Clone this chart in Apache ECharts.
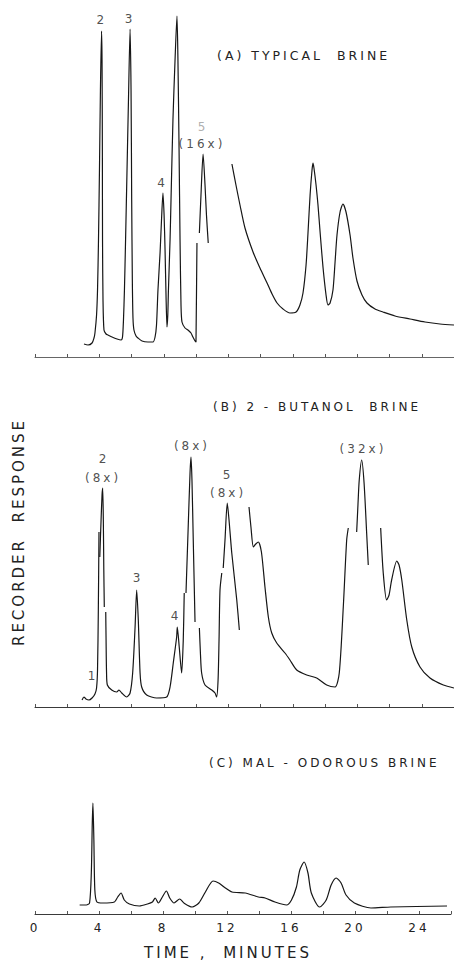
<!DOCTYPE html>
<html>
<head>
<meta charset="utf-8">
<script src="https://cdn.jsdelivr.net/npm/echarts@6/dist/echarts.min.js"></script>
<style>
  html, body { margin: 0; padding: 0; background: #fff; }
  #chart { width: 454px; height: 963px; }
  /* wide tracking of the lettering */
  #chart text { letter-spacing: 3px; white-space: pre; }
</style>
</head>
<body>
<div id="chart"></div>
<script>
// ---- time axis (minutes) ----
const timeMin = 0;
const timeMax = 26;
const tickStep = 2;
const tickLabels = [0, 4, 8, 12, 16, 20, 24];

// ---- (A) typical brine: [time (min), recorder response] ----
// peaks 2, 3, 4 and the large unnumbered peak at 1x
const typicalMain = [
  [3.04,13],[3.29,12],[3.54,14],[3.66,19],[3.72,24],[3.82,42],[3.88,67],[3.94,117],[4.00,187],
  [4.06,267],[4.13,326],[4.16,297],[4.18,207],[4.19,117],[4.22,57],[4.28,27],[4.41,23],[4.53,22],
  [4.78,20],[5.09,18],[5.34,17],[5.43,20],[5.49,37],[5.55,67],[5.62,117],[5.71,187],[5.80,257],
  [5.90,328],[5.96,267],[6.00,157],[6.04,77],[6.08,39],[6.14,27],[6.27,21],[6.39,19],[6.64,16],
  [7.01,15],[7.32,15],[7.45,20],[7.54,32],[7.63,67],[7.76,104],[7.85,137],[7.94,164],[8.01,142],
  [8.07,107],[8.13,62],[8.19,30],[8.24,42],[8.28,67],[8.38,117],[8.44,157],[8.56,237],[8.69,297],
  [8.81,341],[8.87,297],[8.94,207],[9.00,117],[9.06,52],[9.12,35],[9.31,29],[9.49,27],[9.68,24],
  [9.80,20],[9.99,15],[10.02,15],[10.05,114]
];
// peak 5 recorded at 16x attenuation
const typicalPeak5 = [
  [10.20,124],[10.30,162],[10.43,203],[10.55,172],[10.64,142],[10.75,114]
];
// solvent tail and the two late peaks
const typicalTail = [
  [12.22,193],[12.47,172],[12.72,152],[13.03,129],[13.53,105],[13.96,89],[14.40,74],[14.71,63],
  [15.02,54],[15.39,48],[15.82,44],[16.20,45],[16.44,52],[16.63,64],[16.82,92],[16.94,124],
  [17.07,162],[17.19,187],[17.25,194],[17.31,189],[17.44,172],[17.56,152],[17.69,125],[17.87,90],
  [18.06,62],[18.18,52],[18.31,54],[18.49,67],[18.62,95],[18.74,122],[18.93,145],[19.11,153],
  [19.30,145],[19.55,122],[19.73,99],[19.98,76],[20.29,62],[20.60,54],[21.10,48],[21.59,45],
  [22.34,41],[23.27,38],[24.20,35],[25.13,33],[26.00,32]
];
const typicalLabels = [
  [4.14,337,'2'],[5.90,338,'3'],[7.92,174,'4'],[10.36,213,'(16x)']
];
const typicalFaintLabels = [
  [10.43,230,'5']
];

// ---- (B) 2-butanol brine ----
const butanolStart = [
  [2.92,7],[3.04,10],[3.16,8],[3.35,7],[3.54,9],[3.72,13],[3.82,19],[3.88,37],[3.93,97],[3.97,175]
];
const butanolPeak2 = [ // 8x
  [4.02,150],[4.10,187],[4.16,212],[4.20,219],[4.24,187],[4.27,137],[4.30,100]
];
const butanolMid = [
  [4.39,95],[4.41,67],[4.44,34],[4.49,22],[4.76,17],[5.07,15],[5.21,17],[5.38,14],[5.69,10],
  [5.90,14],[6.06,34],[6.21,80],[6.31,117],[6.41,87],[6.52,34],[6.62,20],[6.93,12],[7.55,9],
  [8.17,10],[8.38,20],[8.58,44],[8.79,70],[8.83,80],[8.95,60],[9.10,34],[9.20,67],[9.26,114]
];
const butanolPeakMajor = [ // 8x
  [9.37,114],[9.50,177],[9.62,234],[9.68,250],[9.74,227],[9.82,167],[9.93,85]
];
const butanolValley = [
  [10.20,79],[10.27,52],[10.34,34],[10.55,22],[10.97,17],[11.17,14],[11.27,10],[11.36,27],
  [11.42,67],[11.48,117],[11.59,134]
];
const butanolPeak5 = [ // 8x
  [11.68,139],[11.79,167],[11.93,204],[12.04,187],[12.21,154],[12.52,107],[12.68,77]
];
const butanolTailA = [
  [13.28,200],[13.40,180],[13.55,160],[13.70,163],[13.86,165],[14.05,155],[14.27,120],[14.48,90],
  [14.69,74],[15.00,64],[15.51,54],[15.82,47],[16.24,37],[16.86,32],[17.48,29],[18.10,22],
  [18.62,20],[18.88,34],[19.13,100],[19.34,167],[19.44,179]
];
const butanolPeak32 = [ // 32x
  [19.96,175],[20.04,202],[20.12,227],[20.27,247],[20.42,224],[20.58,174],[20.68,142]
];
const butanolTailB = [
  [21.45,179],[21.61,134],[21.82,107],[21.97,112],[22.13,127],[22.45,146],[22.59,142],[22.76,127],
  [23.07,87],[23.38,60],[23.89,40],[24.51,29],[25.34,22],[26.00,19]
];
const butanolLabels = [
  [3.60,31,'1'],[4.28,248,'2'],[4.22,229,'(8x)'],[6.39,129,'3'],[8.75,91,'4'],
  [9.74,261,'(8x)'],[11.98,232,'5'],[11.98,214,'(8x)'],[20.35,258,'(32x)']
];

// ---- (C) mal-odorous brine ----
const malodorous = [
  [2.79,9],[3.21,9],[3.41,11],[3.52,41],[3.58,91],[3.62,111],[3.68,74],[3.74,24],[3.87,12],
  [4.24,11],[4.96,12],[5.17,17],[5.38,21],[5.58,14],[5.90,10],[6.52,8],[7.03,10],[7.34,12],
  [7.51,16],[7.71,11],[7.96,17],[8.21,23],[8.42,16],[8.69,11],[9.04,15],[9.31,11],[9.82,7],
  [10.24,11],[10.65,22],[11.13,33],[11.48,31],[11.90,26],[12.31,22],[13.14,21],[13.96,17],
  [14.38,16],[15.00,12],[15.72,9],[16.03,14],[16.34,27],[16.55,44],[16.82,52],[17.06,41],
  [17.27,21],[17.79,7],[18.20,14],[18.51,29],[18.82,36],[19.13,31],[19.44,19],[19.96,11],
  [21.00,6],[22.23,7],[25.75,8]
];

const panelTitles = ['(A) TYPICAL  BRINE', '(B) 2 - BUTANOL  BRINE', '(C) MAL - ODOROUS BRINE'];
const responseMax = [350, 300, 130];

const FONT = '"DejaVu Sans", "Liberation Sans", sans-serif';
const INK = '#161616';

const grids = [
  { left: 35, right: 0, top: 7, height: 350 },
  { left: 35, right: 0, top: 407, height: 300 },
  { left: 35, right: 0, top: 784, height: 130 }
];

const xAxes = grids.map((g, i) => ({
  type: 'value', gridIndex: i, min: timeMin, max: timeMax, interval: tickStep,
  axisLine: { onZero: false, lineStyle: { color: i === 0 ? '#666' : '#3a3a3a', width: 1 } },
  axisTick: { show: true, inside: true, length: 3, lineStyle: { color: '#555' } },
  axisLabel: {
    show: i === 2, margin: 8, color: '#222', fontFamily: FONT, fontSize: 12,
    formatter: v => (tickLabels.indexOf(v) >= 0 ? String(v) : '')
  },
  splitLine: { show: false }
}));

const yAxes = grids.map((g, i) => ({
  type: 'value', gridIndex: i, min: 0, max: responseMax[i], show: false
}));

function trace(data, panel) {
  return {
    type: 'line', xAxisIndex: panel, yAxisIndex: panel, data: data,
    symbol: 'none', smooth: 0.25, silent: true,
    lineStyle: { color: INK, width: 1.2 }
  };
}
function notes(data, panel, color, size) {
  return {
    type: 'scatter', xAxisIndex: panel, yAxisIndex: panel, data: data,
    symbolSize: 1, itemStyle: { color: 'rgba(0,0,0,0)' }, silent: true,
    label: {
      show: true, position: 'inside', color: color, fontFamily: FONT, fontSize: size,
      formatter: p => p.data[2]
    }
  };
}

const series = [
  trace(typicalMain, 0), trace(typicalPeak5, 0), trace(typicalTail, 0),
  notes(typicalLabels, 0, '#222', 12), notes(typicalFaintLabels, 0, '#9a9a9a', 12),
  trace(butanolStart, 1), trace(butanolPeak2, 1), trace(butanolMid, 1), trace(butanolPeakMajor, 1),
  trace(butanolValley, 1), trace(butanolPeak5, 1), trace(butanolTailA, 1), trace(butanolPeak32, 1),
  trace(butanolTailB, 1),
  notes(butanolLabels, 1, '#222', 12),
  trace(malodorous, 2)
];

const titleY = [55, 407, 763];
const titleX = [217, 213, 209];
const titleSize = [12.5, 12, 12];
const graphic = panelTitles.map((t, i) => ({
  type: 'text', x: titleX[i], y: titleY[i], silent: true,
  style: { text: t, fill: '#222', fontFamily: FONT, fontSize: titleSize[i], align: 'left', verticalAlign: 'middle' }
}));
graphic.push({
  type: 'text', x: 19, y: 532, rotation: Math.PI / 2, silent: true,
  style: { text: 'RECORDER  RESPONSE', fill: '#222', fontFamily: FONT, fontSize: 15, align: 'center', verticalAlign: 'middle' }
});
graphic.push({
  type: 'text', x: 228, y: 953, silent: true,
  style: { text: 'TIME ,  MINUTES', fill: '#222', fontFamily: FONT, fontSize: 15, align: 'center', verticalAlign: 'middle' }
});

const chart = echarts.init(document.getElementById('chart'), null, { renderer: 'svg' });
chart.setOption({
  animation: false,
  backgroundColor: '#fff',
  grid: grids,
  xAxis: xAxes,
  yAxis: yAxes,
  series: series,
  graphic: graphic
});
</script>
</body>
</html>
